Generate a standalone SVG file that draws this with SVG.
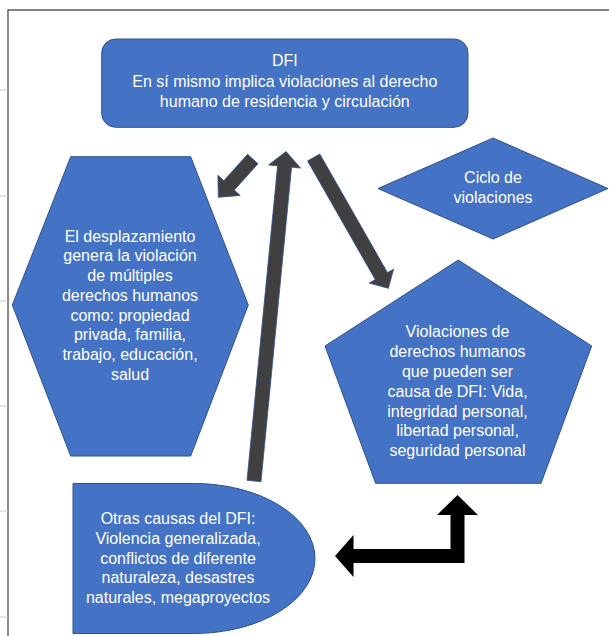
<svg xmlns="http://www.w3.org/2000/svg" width="609" height="636" viewBox="0 0 609 636">
<style>
.shape{fill:#4472C4;stroke:#2F528F;stroke-width:1}
.t{font-family:"Liberation Sans",Arial,sans-serif;font-size:16px;fill:#FFFFFF;text-anchor:middle}
.garrow{fill:#404040;stroke:#2F528F;stroke-width:0.8}
.frame{stroke:#595959;stroke-width:1.4;fill:none}
.tick{stroke:#C8C8C8;stroke-width:1}
</style>
<rect x="0" y="0" width="609" height="636" fill="#FFFFFF"/>
<g id="frame">
<path class="frame" d="M8,636 V10 H609"/>
<line class="tick" x1="0" y1="90" x2="8" y2="90"/>
<line class="tick" x1="0" y1="196" x2="8" y2="196"/>
<line class="tick" x1="0" y1="301" x2="8" y2="301"/>
<line class="tick" x1="0" y1="406" x2="8" y2="406"/>
<line class="tick" x1="0" y1="511" x2="8" y2="511"/>
<line class="tick" x1="0" y1="617" x2="8" y2="617"/>
</g>
<g id="connectors">
<polygon class="garrow" transform="translate(252.8,159) rotate(132)" points="0,-7 35.5,-7 35.5,-15 51.5,0 35.5,15 35.5,7 0,7"/>
<polygon class="garrow" transform="translate(254,481) rotate(-84.45)" points="0,-7 316,-7 316,-16 331,0 316,16 316,7 0,7"/>
<polygon class="garrow" transform="translate(313.7,157.5) rotate(60.3)" points="0,-7 136.6,-7 136.6,-14 150.6,0 136.6,14 136.6,7 0,7"/>
<polygon fill="#000000" points="335,556 353.5,535 353.5,549 450.5,549 450.5,515 437,515 457.5,495 478,515 464.5,515 464.5,563 353.5,563 353.5,577"/>
</g>
<g id="dfi">
<rect class="shape" x="101.7" y="39" width="366.3" height="88.3" rx="14" ry="14"/>
<text class="t" x="284.8" y="66.3">DFI</text>
<text class="t" x="284.8" y="86.5">En sí mismo implica violaciones al derecho</text>
<text class="t" x="284.8" y="106.7">humano de residencia y circulación</text>
</g>
<g id="desplazamiento">
<polygon class="shape" points="70.7,156.7 190.7,156.7 248.3,305 190.7,456 70.7,456 12.3,305"/>
<text class="t" x="130" y="241.7">El desplazamiento</text>
<text class="t" x="130" y="261.4">genera la violación</text>
<text class="t" x="130" y="281.1">de múltiples</text>
<text class="t" x="130" y="300.8">derechos humanos</text>
<text class="t" x="130" y="320.5">como: propiedad</text>
<text class="t" x="130" y="340.2">privada, familia,</text>
<text class="t" x="130" y="359.9">trabajo, educación,</text>
<text class="t" x="130" y="379.6">salud</text>
</g>
<g id="ciclo">
<polygon class="shape" points="493,138 608,188.5 493,239 378,188.5"/>
<text class="t" x="493" y="183.3">Ciclo de</text>
<text class="t" x="493" y="202.7">violaciones</text>
</g>
<g id="violaciones">
<polygon class="shape" points="458.3,260 591.7,346 541,483.3 375.6,483.3 325,346"/>
<text class="t" x="457.5" y="337.3">Violaciones de</text>
<text class="t" x="457.5" y="357.1">derechos humanos</text>
<text class="t" x="457.5" y="376.9">que pueden ser</text>
<text class="t" x="457.5" y="396.7">causa de DFI: Vida,</text>
<text class="t" x="457.5" y="416.5">integridad personal,</text>
<text class="t" x="457.5" y="436.3">libertad personal,</text>
<text class="t" x="457.5" y="456.1">seguridad personal</text>
</g>
<g id="otras">
<path class="shape" d="M73,483.5 H194 A121,75 0 0 1 194,633.5 H73 Z"/>
<text class="t" x="178" y="524.3">Otras causas del DFI:</text>
<text class="t" x="178" y="543.9">Violencia generalizada,</text>
<text class="t" x="178" y="563.5">conflictos de diferente</text>
<text class="t" x="178" y="583.1">naturaleza, desastres</text>
<text class="t" x="178" y="602.7">naturales, megaproyectos</text>
</g>
</svg>
